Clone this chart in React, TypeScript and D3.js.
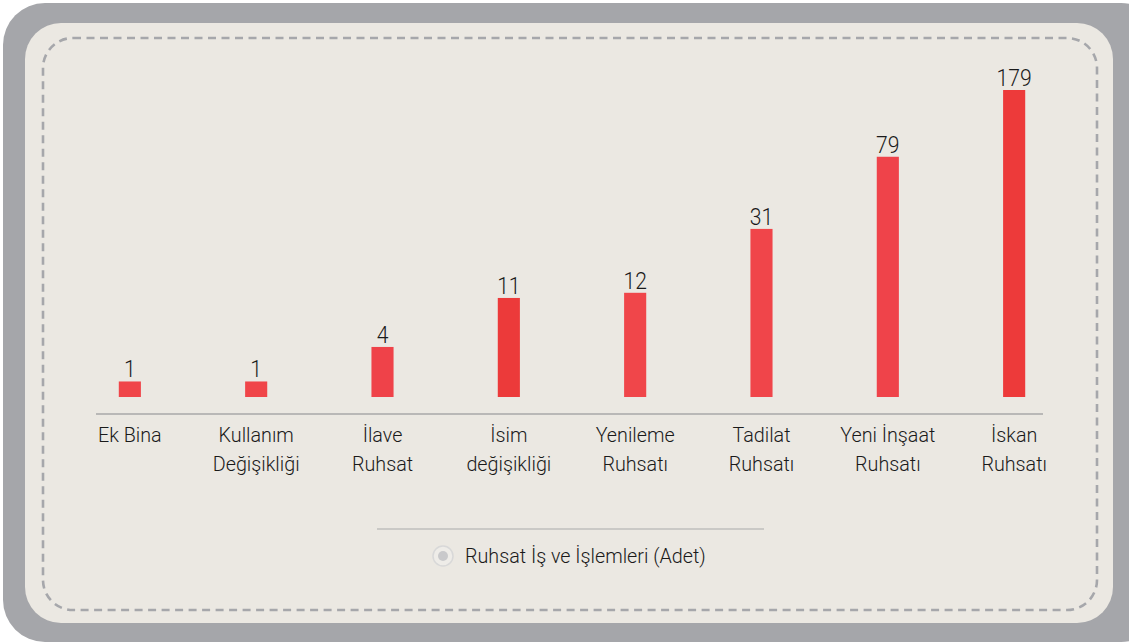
import React from "react";
import * as d3 from "d3";

const categories: string[][] = [
  ["Ek Bina"],
  ["Kullanım", "Değişikliği"],
  ["İlave", "Ruhsat"],
  ["İsim", "değişikliği"],
  ["Yenileme", "Ruhsatı"],
  ["Tadilat", "Ruhsatı"],
  ["Yeni İnşaat", "Ruhsatı"],
  ["İskan", "Ruhsatı"],
];
const values: number[] = [1, 1, 4, 11, 12, 31, 79, 179];
const barColors: string[] = ["#f04549", "#f04549", "#ef4249", "#ec3a3a", "#f0464a", "#f0454a", "#ef434a", "#ed3a3a"];
const legendLabel = "Ruhsat İş ve İşlemleri (Adet)";

const W = 1129;
const H = 643;
const FONT = "Roboto, 'Noto Sans', sans-serif";

function CText(props: { x: number; y: number; size: number; sx: number; anchor?: string; children: React.ReactNode }) {
  return (
    <text
      transform={`translate(${props.x},${props.y}) scale(${props.sx},1)`}
      textAnchor={props.anchor || "middle"}
      fontSize={props.size}
      fontWeight={300}
      fill="#1a1a1a"
    >
      {props.children}
    </text>
  );
}

export default function App() {
  const x = d3
    .scaleBand<number>()
    .domain(d3.range(values.length))
    .range([67, 1077])
    .paddingInner(0.825)
    .paddingOuter(0.41);
  const y = d3.scaleSymlog().constant(5).domain([0, 179]).range([397, 90]);

  return (
    <svg
      width={W}
      height={H}
      style={{ position: "absolute", left: 0, top: 0, fontFamily: FONT }}
    >
      <rect x={3} y={3} width={1160} height={639} rx={42} fill="#a5a6aa" />
      <rect x={25} y={23} width={1088} height={600} rx={36} fill="#ebe8e2" />
      <rect
        x={43}
        y={38}
        width={1054}
        height={572}
        rx={30}
        fill="none"
        stroke="#a6a7ab"
        strokeWidth={2.6}
        strokeDasharray="8 5.5"
      />
      <line x1={96} x2={1043} y1={414} y2={414} stroke="#a9a9a9" strokeWidth={1.5} />
      {values.map((v, i) => {
        const bx = x(i)!;
        const bw = x.bandwidth();
        const cx = bx + bw / 2;
        return (
          <g key={i}>
            <rect x={bx} y={y(v)} width={bw} height={y(0) - y(v)} fill={barColors[i]} />
            <CText x={cx} y={y(v) - 4} size={24} sx={0.88}>
              {v}
            </CText>
            {categories[i].map((line, j) => (
              <CText key={j} x={cx} y={442 + j * 29} size={21} sx={0.94}>
                {line}
              </CText>
            ))}
          </g>
        );
      })}
      <line x1={377} x2={764} y1={529} y2={529} stroke="#a9a9a9" strokeWidth={1.2} />
      <circle cx={443} cy={556} r={10} fill="#eeece8" stroke="#d8d8d8" strokeWidth={1.5} />
      <circle cx={443} cy={556} r={5} fill="#c9c9cb" />
      <CText x={465} y={563} size={21} sx={0.94} anchor="start">
        {legendLabel}
      </CText>
    </svg>
  );
}
